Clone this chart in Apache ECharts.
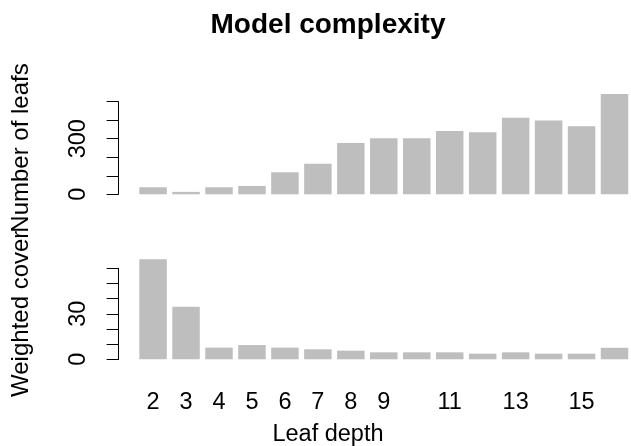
<!DOCTYPE html>
<html>
<head>
<meta charset="utf-8">
<script src="https://cdn.jsdelivr.net/npm/echarts@6/dist/echarts.min.js"></script>
<style>
html,body{margin:0;padding:0;background:#fff;}
#chart{width:631px;height:446px;}
</style>
</head>
<body>
<div id="chart"></div>
<script>
var depths = ['2','3','4','5','6','7','8','9','10','11','12','13','14','15','16'];
var shownDepthLabels = ['2','3','4','5','6','7','8','9','11','13','15'];
var numberOfLeafs = [38, 13, 38, 45, 119, 165, 277, 302, 302, 342, 335, 414, 399, 367, 541];
var weightedCover = [66, 34.6, 7.7, 9.4, 7.7, 6.6, 5.7, 4.6, 4.6, 4.6, 3.7, 4.6, 3.7, 3.7, 7.6];
var leafsTickLabels = [0, 300];
var coverTickLabels = [0, 30];

var FONT = 'Liberation Sans, Arial, Helvetica, sans-serif';
var chart = echarts.init(document.getElementById('chart'), null, {renderer: 'canvas'});

function yAxisCfg(gridIndex, max, interval, shown, name) {
  return {
    type: 'value', gridIndex: gridIndex, min: 0, max: max, interval: interval,
    offset: 18,
    splitLine: {show: false},
    axisLine: {show: true, lineStyle: {color: '#000', width: 1}},
    axisTick: {show: true, length: 12, lineStyle: {color: '#000', width: 1}},
    axisLabel: {
      rotate: 90, margin: 28, color: '#000', fontSize: 23.5, fontFamily: FONT,
      formatter: function (v) { return shown.indexOf(v) >= 0 ? String(v) : ''; }
    },
    name: name, nameLocation: 'middle', nameRotate: 90, nameGap: 85,
    nameTextStyle: {color: '#000', fontSize: 24, fontFamily: FONT}
  };
}

var option = {
  animation: false,
  backgroundColor: '#fff',
  grid: [
    {left: 136.6, width: 496.5, top: 101.7, height: 92.6},
    {left: 136.6, width: 496.5, top: 268.3, height: 91}
  ],
  xAxis: [
    {type: 'category', gridIndex: 0, data: depths, show: false},
    {type: 'category', gridIndex: 1, data: depths,
      axisLine: {show: false}, axisTick: {show: false},
      axisLabel: {
        interval: 0, margin: 31, color: '#000', fontSize: 23.5, fontFamily: FONT,
        formatter: function (v) { return shownDepthLabels.indexOf(v) >= 0 ? v : ''; }
      }
    }
  ],
  yAxis: [
    yAxisCfg(0, 500, 100, leafsTickLabels, 'Number of leafs'),
    yAxisCfg(1, 60, 10, coverTickLabels, 'Weighted cover')
  ],
  series: [
    {type: 'bar', xAxisIndex: 0, yAxisIndex: 0, data: numberOfLeafs, clip: false,
      barCategoryGap: '16.6%', itemStyle: {color: '#bebebe'}},
    {type: 'bar', xAxisIndex: 1, yAxisIndex: 1, data: weightedCover, clip: false,
      barCategoryGap: '16.6%', itemStyle: {color: '#bebebe'}}
  ],
  graphic: [
    {type: 'text', x: 328, y: 25, style: {text: 'Model complexity', fill: '#000',
      font: 'bold 28px ' + FONT, textAlign: 'center', textVerticalAlign: 'middle'}},
    {type: 'text', x: 328, y: 435, style: {text: 'Leaf depth', fill: '#000',
      font: '23.5px ' + FONT, textAlign: 'center', textVerticalAlign: 'middle'}}
  ]
};
chart.setOption(option);
</script>
</body>
</html>
